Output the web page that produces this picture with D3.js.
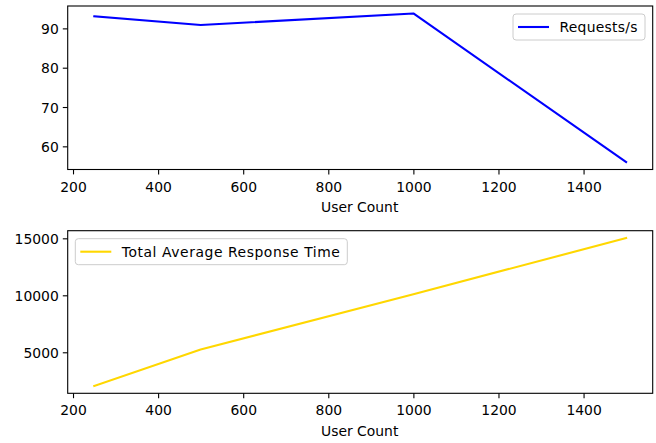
<!DOCTYPE html>
<html><head><meta charset="utf-8">
<script src="https://cdn.jsdelivr.net/npm/d3@7"></script>
<style>body{margin:0;background:#fff}svg{display:block}text{font-family:"DejaVu Sans",sans-serif;fill:#000}</style>
</head><body>
<svg id="c" width="656" height="443"></svg>
<script>
const userCounts = [250, 500, 1000, 1500];
const requestsPerSec = [93.05, 90.85, 93.8, 56.0];
const avgResponseTime = [2050, 5250, 10100, 15020];
const xTicks = [200, 400, 600, 800, 1000, 1200, 1400];
const topYTicks = [60, 70, 80, 90];
const bottomYTicks = [5000, 10000, 15000];
const xLabel = "User Count";
const topLegend = "Requests/s";
const bottomLegend = "Total Average Response Time";

const svg = d3.select("#c");
const left = 67.7, right = 652.7;

function pad(ext){ const s = ext[1]-ext[0]; return [ext[0]-0.05*s, ext[1]+0.05*s]; }

function panel(top, bottom, ys, color, yTicks, legendText, legendPos, legendTextW){
  const x = d3.scaleLinear().domain(pad(d3.extent(userCounts))).range([left, right]);
  const y = d3.scaleLinear().domain(pad(d3.extent(ys))).range([bottom, top]);
  const g = svg.append("g");
  const line = d3.line().x((d,i)=>x(userCounts[i])).y(d=>y(d));
  g.append("path").datum(ys).attr("d", line).attr("fill","none")
    .attr("stroke", color).attr("stroke-width", 2.1).attr("stroke-linejoin","round").attr("stroke-linecap","square");
  const xa = d3.axisBottom(x).tickValues(xTicks).tickSize(4.9).tickPadding(4).tickFormat(d3.format("d"));
  const ya = d3.axisLeft(y).tickValues(yTicks).tickSize(4.9).tickPadding(4).tickFormat(d3.format("d"));
  const gx = g.append("g").attr("transform",`translate(0,${bottom})`).call(xa);
  const gy = g.append("g").attr("transform",`translate(${left},0)`).call(ya);
  [gx, gy].forEach(a=>{
    a.select(".domain").remove();
    a.selectAll(".tick line").attr("stroke","#000").attr("stroke-width",1.1);
    a.selectAll(".tick text").attr("font-size","13.9px").attr("font-family","DejaVu Sans").attr("fill","#000");
  });
  gx.selectAll(".tick text").attr("dy", null).attr("y", 22.2);
  gy.selectAll(".tick text").attr("dy", "0.36em");
  g.append("rect").attr("x",left).attr("y",top).attr("width",right-left).attr("height",bottom-top)
    .attr("fill","none").attr("stroke","#000").attr("stroke-width",1.1);
  g.append("text").attr("x",(left+right)/2 - 0.5).attr("y",bottom+42.5).attr("text-anchor","middle")
    .attr("font-size","13.9px").text(xLabel);
  // legend
  const lg = g.append("g");
  const bw = legendTextW + 54, bh = 26;
  const bx = legendPos === "right" ? right - 7.7 - bw : left + 7.6;
  const by = top + 8;
  lg.append("rect").attr("x",bx).attr("y",by).attr("width",bw).attr("height",bh)
    .attr("rx",3).attr("fill","#fff").attr("fill-opacity",0.8).attr("stroke","#cccccc").attr("stroke-width",1);
  lg.append("line").attr("x1",bx+5).attr("x2",bx+36).attr("y1",by+bh/2).attr("y2",by+bh/2)
    .attr("stroke",color).attr("stroke-width",2.1);
  lg.append("text").attr("font-size","13.9px").attr("x", bx+46.5).attr("y", by+bh/2).attr("dy","0.36em")
    .attr("textLength", legendTextW).attr("lengthAdjust","spacing").text(legendText);
}

panel(6, 169.5, requestsPerSec, "#0000ff", topYTicks, topLegend, "right", 78);
panel(230.7, 393.3, avgResponseTime, "#ffd700", bottomYTicks, bottomLegend, "left", 218);
</script>
</body></html>
